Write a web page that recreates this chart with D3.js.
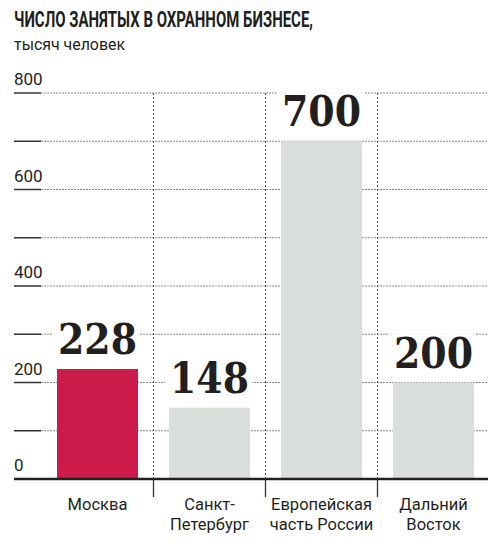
<!DOCTYPE html>
<html>
<head>
<meta charset="utf-8">
<script src="https://cdn.jsdelivr.net/npm/d3@7"></script>
<style>
  body { margin: 0; background: #fff; }
  text { font-family: Roboto, "DejaVu Sans Condensed", sans-serif; fill: #231f20; }
</style>
</head>
<body>
<svg id="chart"></svg>
<script>
// data
const regions = [['Москва'], ['Санкт-', 'Петербург'], ['Европейская', 'часть России'], ['Дальний', 'Восток']];
const employed = [228, 148, 700, 200];
const gridTicks = [0, 100, 200, 300, 400, 500, 600, 700, 800];
const labelTicks = [0, 200, 400, 600, 800];

const width = 488, height = 543;
const marginLeft = 14, axisRight = 41;
const baseY = 479, topY = 93;

const svg = d3.select('#chart')
    .attr('width', width)
    .attr('height', height);

// scales
const y = d3.scaleLinear()
    .domain([0, 800])
    .range([baseY, topY]);

const x = d3.scaleBand()
    .domain(d3.range(regions.length))
    .range([41.5, 489.5])
    .paddingInner(0.277)
    .paddingOuter(0.1385);

// title
svg.append('text')
    .attr('x', marginLeft)
    .attr('y', 27)
    .attr('font-size', '22px')
    .attr('font-weight', 'bold')
    .attr('textLength', 299)
    .attr('lengthAdjust', 'spacingAndGlyphs')
    .text('ЧИСЛО ЗАНЯТЫХ В ОХРАННОМ БИЗНЕСЕ,');

svg.append('text')
    .attr('x', marginLeft)
    .attr('y', 50)
    .attr('font-size', '16px')
    .attr('textLength', 111)
    .attr('lengthAdjust', 'spacingAndGlyphs')
    .text('тысяч человек');

// horizontal grid: dashed line + short solid tick at left
const grid = svg.append('g');
grid.selectAll('.grid')
    .data(gridTicks.filter(d => d > 0))
  .join('line')
    .attr('class', 'grid')
    .attr('x1', axisRight)
    .attr('x2', width)
    .attr('y1', d => y(d))
    .attr('y2', d => y(d))
    .attr('stroke', '#8a8a8a')
    .attr('stroke-width', 1)
    .attr('stroke-dasharray', '2,1');

grid.selectAll('.tick')
    .data(gridTicks.filter(d => d > 0))
  .join('line')
    .attr('class', 'tick')
    .attr('x1', marginLeft)
    .attr('x2', axisRight)
    .attr('y1', d => y(d))
    .attr('y2', d => y(d))
    .attr('stroke', '#333')
    .attr('stroke-width', 1.5);

grid.selectAll('.ylabel')
    .data(labelTicks)
  .join('text')
    .attr('class', 'ylabel')
    .attr('x', marginLeft)
    .attr('y', d => y(d) - 8)
    .attr('font-size', '17px')
    .text(d => d);

// vertical separators between categories
const seps = d3.range(1, regions.length).map(i => x(i) - (x.step() - x.bandwidth()) / 2);
svg.selectAll('.sep')
    .data(seps)
  .join('line')
    .attr('class', 'sep')
    .attr('x1', d => d)
    .attr('x2', d => d)
    .attr('y1', topY)
    .attr('y2', baseY)
    .attr('stroke', '#555')
    .attr('stroke-width', 1)
    .attr('stroke-dasharray', '2,2');

svg.selectAll('.septick')
    .data(seps)
  .join('line')
    .attr('class', 'septick')
    .attr('x1', d => d)
    .attr('x2', d => d)
    .attr('y1', baseY)
    .attr('y2', baseY + 18)
    .attr('stroke', '#333')
    .attr('stroke-width', 1.3);

// bars
svg.selectAll('.bar')
    .data(employed)
  .join('rect')
    .attr('class', 'bar')
    .attr('x', (d, i) => x(i))
    .attr('y', d => y(d))
    .attr('width', x.bandwidth())
    .attr('height', d => baseY - y(d))
    .attr('fill', (d, i) => i === 0 ? '#cc1a4a' : '#d9dedb');

// value labels with white knock-out behind
const vals = svg.selectAll('.val')
    .data(employed)
  .join('g')
    .attr('class', 'val');

vals.append('rect')
    .attr('fill', '#fff');

vals.append('text')
    .attr('x', (d, i) => x(i) + x.bandwidth() / 2)
    .attr('y', d => y(d) - 15)
    .attr('text-anchor', 'middle')
    .attr('font-size', '43px')
    .attr('font-weight', 'bold')
    .attr('textLength', 79)
    .attr('lengthAdjust', 'spacingAndGlyphs')
    .style('font-family', '"DejaVu Serif", "Liberation Serif", serif')
    .text(d => d);

vals.each(function() {
  const g = d3.select(this);
  const bb = g.select('text').node().getBBox();
  g.select('rect')
      .attr('x', bb.x - 5)
      .attr('y', bb.y + 6)
      .attr('width', bb.width + 8)
      .attr('height', bb.height - 10);
});

// baseline
svg.append('line')
    .attr('x1', marginLeft)
    .attr('x2', width)
    .attr('y1', baseY)
    .attr('y2', baseY)
    .attr('stroke', '#231f20')
    .attr('stroke-width', 2.5);

// category labels
const cats = svg.selectAll('.cat')
    .data(regions)
  .join('text')
    .attr('class', 'cat')
    .attr('text-anchor', 'middle')
    .attr('font-size', '16.5px');

cats.selectAll('tspan')
    .data((d, i) => d.map(t => ({t, i})))
  .join('tspan')
    .attr('x', d => x(d.i) + x.bandwidth() / 2)
    .attr('y', (d, j) => 510 + j * 20)
    .text(d => d.t);
</script>
</body>
</html>
